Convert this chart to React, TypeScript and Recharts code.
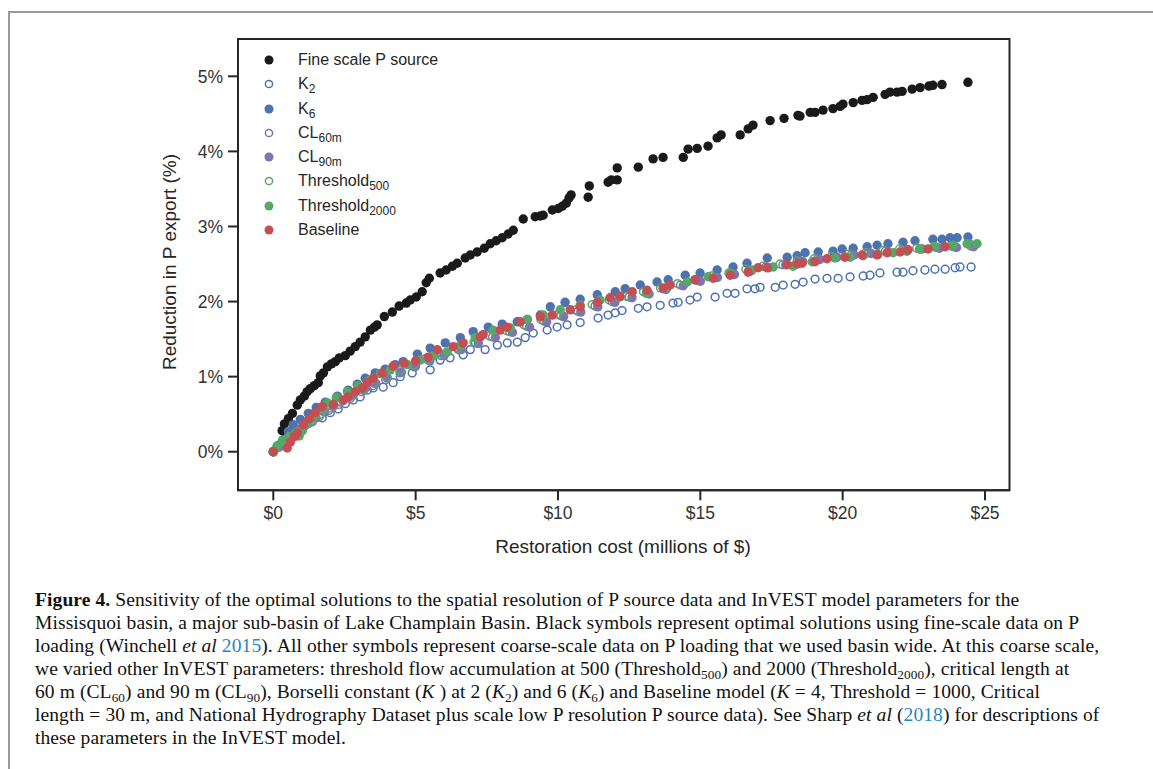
import { ReferenceArea, Scatter, ScatterChart, XAxis, YAxis } from "recharts";

// values: [cost in $M, reduction in %]
const fineScale = [
  [0, 0], [0.31, 0.28], [0.39, 0.37], [0.53, 0.44], [0.67, 0.51], [0.84, 0.62], [0.95, 0.69],
  [1.09, 0.74], [1.19, 0.8], [1.3, 0.84], [1.44, 0.88], [1.58, 0.92], [1.65, 1.01], [1.76, 1.05],
  [1.9, 1.13], [2.04, 1.17], [2.18, 1.2], [2.32, 1.25], [2.53, 1.28], [2.7, 1.34], [2.88, 1.4],
  [3.05, 1.46], [3.23, 1.53], [3.41, 1.62], [3.55, 1.66], [3.65, 1.69], [3.9, 1.8], [4.18, 1.86],
  [4.42, 1.94], [4.67, 1.98], [4.81, 2.02], [5.02, 2.06], [5.23, 2.13], [5.37, 2.25], [5.48, 2.31],
  [5.86, 2.38], [6.07, 2.42], [6.29, 2.47], [6.46, 2.51], [6.74, 2.58], [6.92, 2.62], [7.16, 2.66],
  [7.41, 2.71], [7.62, 2.77], [7.83, 2.81], [8.04, 2.85], [8.25, 2.9], [8.43, 2.95], [8.78, 3.1],
  [9.2, 3.13], [9.38, 3.14], [9.48, 3.15], [9.8, 3.22], [10.01, 3.24], [10.15, 3.27], [10.29, 3.31],
  [10.39, 3.38], [10.46, 3.42], [11.06, 3.39], [11.1, 3.54], [11.76, 3.59], [11.87, 3.62],
  [12.08, 3.62], [12.08, 3.78], [12.82, 3.79], [13.34, 3.9], [13.69, 3.92], [14.4, 3.92],
  [14.57, 4.03], [14.89, 4.04], [15.27, 4.07], [15.59, 4.18], [15.73, 4.22], [16.4, 4.22],
  [16.68, 4.3], [16.85, 4.35], [17.45, 4.41], [17.94, 4.44], [18.43, 4.48], [18.5, 4.47],
  [18.86, 4.52], [19.03, 4.52], [19.31, 4.55], [19.66, 4.57], [19.91, 4.6], [20.01, 4.63],
  [20.37, 4.65], [20.68, 4.68], [20.86, 4.69], [21.07, 4.72], [21.49, 4.76], [21.66, 4.79],
  [21.91, 4.79], [22.09, 4.8], [22.44, 4.83], [22.72, 4.85], [23.03, 4.87], [23.17, 4.88],
  [23.49, 4.89], [24.4, 4.92],
];

const k2 = [
  [0, 0], [0.14, 0.07], [0.35, 0.15], [0.6, 0.21], [0.84, 0.28], [1.12, 0.35], [1.37, 0.4],
  [1.72, 0.45], [2.0, 0.52], [2.28, 0.57], [2.53, 0.64], [2.81, 0.69], [3.05, 0.73], [3.3, 0.82],
  [3.51, 0.85], [3.86, 0.86], [4.21, 0.92], [4.46, 1.0], [4.88, 1.05], [5.51, 1.09], [5.86, 1.22],
  [6.21, 1.25], [6.67, 1.29], [6.92, 1.36], [7.44, 1.36], [7.87, 1.42], [8.22, 1.45], [8.57, 1.46],
  [8.85, 1.52], [9.13, 1.58], [9.62, 1.62], [9.97, 1.66], [10.32, 1.69], [10.78, 1.72],
  [11.41, 1.78], [11.76, 1.82], [12.01, 1.85], [12.25, 1.88], [12.82, 1.91], [13.13, 1.93],
  [13.59, 1.95], [14.04, 1.98], [14.22, 1.99], [14.64, 2.02], [14.89, 2.06], [15.52, 2.06],
  [15.94, 2.11], [16.22, 2.11], [16.64, 2.17], [16.92, 2.17], [17.1, 2.19], [17.63, 2.19],
  [17.91, 2.22], [18.33, 2.23], [18.61, 2.26], [19.03, 2.3], [19.45, 2.31], [19.84, 2.31],
  [20.26, 2.33], [20.72, 2.34], [20.96, 2.35], [21.31, 2.38], [21.91, 2.39], [22.12, 2.39],
  [22.47, 2.41], [22.89, 2.42], [23.24, 2.43], [23.6, 2.43], [23.95, 2.45], [24.12, 2.46],
  [24.51, 2.46],
];

const k6 = [
  [0, 0], [0.18, 0.08], [0.35, 0.16], [0.53, 0.27], [0.7, 0.36], [0.95, 0.43], [1.23, 0.51],
  [1.51, 0.59], [1.83, 0.66], [2.25, 0.74], [2.63, 0.82], [2.95, 0.9], [3.23, 0.98], [3.58, 1.05],
  [3.93, 1.1], [4.28, 1.16], [4.56, 1.2], [5.06, 1.3], [5.51, 1.38], [6.04, 1.45], [6.57, 1.52],
  [7.02, 1.6], [7.55, 1.66], [8.04, 1.7], [8.57, 1.73], [8.92, 1.76], [9.38, 1.82], [9.73, 1.93],
  [10.25, 1.99], [10.78, 2.03], [11.38, 2.09], [12.01, 2.13], [12.36, 2.17], [12.89, 2.22],
  [13.48, 2.26], [13.87, 2.29], [14.47, 2.35], [14.99, 2.38], [15.59, 2.42], [16.15, 2.46],
  [16.64, 2.51], [17.35, 2.58], [18.05, 2.59], [18.4, 2.61], [18.68, 2.65], [19.14, 2.66],
  [19.66, 2.67], [19.98, 2.7], [20.37, 2.71], [20.86, 2.73], [21.21, 2.75], [21.59, 2.77],
  [22.12, 2.79], [22.54, 2.81], [23.17, 2.83], [23.49, 2.83], [23.77, 2.85], [24.02, 2.85],
  [24.4, 2.86],
];

const cl60 = [
  [0, 0], [0.22, 0.07], [0.48, 0.16], [0.74, 0.24], [1.0, 0.31], [1.3, 0.39], [1.62, 0.47],
  [1.95, 0.55], [2.3, 0.63], [2.7, 0.71], [3.1, 0.8], [3.5, 0.88], [3.95, 0.96], [4.45, 1.05],
  [4.95, 1.13], [5.34, 1.24], [5.9, 1.28], [6.5, 1.36], [7.1, 1.45], [7.7, 1.53], [8.3, 1.6],
  [8.9, 1.67], [9.5, 1.74], [10.1, 1.81], [10.7, 1.87], [11.3, 1.94], [11.9, 2.0], [12.5, 2.06],
  [13.1, 2.11], [13.7, 2.17], [14.3, 2.22], [14.9, 2.28], [15.5, 2.32], [16.1, 2.37], [16.7, 2.41],
  [17.3, 2.46], [17.9, 2.49], [18.5, 2.53], [19.1, 2.56], [19.7, 2.59], [20.3, 2.62], [20.9, 2.65],
  [21.5, 2.67], [22.1, 2.69], [22.7, 2.7], [23.3, 2.72], [23.9, 2.73], [24.5, 2.74],
];

const cl90 = [
  [0, 0], [0.2, 0.06], [0.45, 0.14], [0.7, 0.22], [0.95, 0.3], [1.2, 0.37], [1.5, 0.45],
  [1.8, 0.53], [2.1, 0.6], [2.45, 0.68], [2.8, 0.75], [3.2, 0.83], [3.6, 0.91], [4.0, 0.98],
  [4.5, 1.06], [5.0, 1.14], [5.5, 1.21], [6.0, 1.28], [6.6, 1.36], [7.2, 1.44], [7.8, 1.52],
  [8.4, 1.59], [9.0, 1.66], [9.6, 1.73], [10.2, 1.8], [10.8, 1.86], [11.4, 1.93], [12.0, 1.99],
  [12.6, 2.05], [13.2, 2.1], [13.8, 2.16], [14.4, 2.21], [15.0, 2.27], [15.6, 2.32], [16.2, 2.36],
  [16.8, 2.41], [17.4, 2.45], [18.0, 2.49], [18.6, 2.53], [19.2, 2.56], [19.8, 2.59], [20.4, 2.62],
  [21.0, 2.64], [21.6, 2.66], [22.2, 2.68], [22.8, 2.7], [23.4, 2.71], [24.0, 2.72], [24.6, 2.73],
];

const thr500 = [
  [0, 0], [0.12, 0.06], [0.3, 0.13], [0.55, 0.2], [0.8, 0.26], [1.08, 0.33], [1.35, 0.41],
  [1.65, 0.5], [1.98, 0.58], [2.35, 0.66], [2.75, 0.74], [3.15, 0.83], [3.55, 0.91], [4.0, 0.99],
  [4.45, 1.08], [4.95, 1.15], [5.45, 1.22], [5.95, 1.3], [6.5, 1.38], [7.05, 1.46], [7.6, 1.54],
  [8.2, 1.61], [8.8, 1.69], [9.4, 1.76], [10.0, 1.83], [10.6, 1.89], [11.2, 1.96], [11.8, 2.02],
  [12.4, 2.07], [13.0, 2.13], [13.6, 2.18], [14.2, 2.24], [14.8, 2.29], [15.4, 2.34], [16.0, 2.38],
  [16.6, 2.43], [17.2, 2.47], [17.8, 2.5], [18.4, 2.54], [19.0, 2.57], [19.6, 2.6], [20.2, 2.63],
  [20.8, 2.65], [21.4, 2.68], [22.0, 2.7], [22.6, 2.71], [23.2, 2.73], [23.8, 2.74], [24.5, 2.76],
];

const thr2000 = [
  [0, 0], [0.14, 0.08], [0.32, 0.15], [0.6, 0.2], [0.91, 0.21], [1.02, 0.28], [1.23, 0.39],
  [1.47, 0.48], [1.72, 0.56], [1.9, 0.65], [2.21, 0.72], [2.6, 0.8], [2.98, 0.88], [3.41, 0.96],
  [3.76, 1.04], [4.11, 1.09], [4.71, 1.16], [5.16, 1.22], [5.62, 1.28], [6.11, 1.33], [6.57, 1.42],
  [7.09, 1.52], [7.72, 1.62], [8.32, 1.65], [8.92, 1.76], [9.48, 1.82], [10.08, 1.89],
  [10.78, 1.95], [11.48, 2.02], [12.18, 2.06], [13.13, 2.11], [13.83, 2.19], [14.54, 2.26],
  [15.27, 2.33], [16.05, 2.38], [16.82, 2.42], [17.56, 2.46], [18.26, 2.47], [18.93, 2.53],
  [19.73, 2.58], [20.26, 2.59], [20.72, 2.61], [21.24, 2.63], [21.77, 2.65], [22.26, 2.67],
  [22.72, 2.7], [23.24, 2.73], [23.88, 2.75], [24.37, 2.77], [24.72, 2.77],
];

const baseline = [
  [0, 0], [0.49, 0.05], [0.6, 0.13], [0.74, 0.2], [0.84, 0.25], [1.05, 0.36], [1.26, 0.44],
  [1.47, 0.52], [1.72, 0.6], [2.11, 0.63], [2.46, 0.69], [2.63, 0.73], [2.88, 0.8], [3.13, 0.85],
  [3.3, 0.92], [3.51, 0.98], [3.83, 1.05], [4.21, 1.14], [4.6, 1.18], [5.0, 1.21], [5.44, 1.26],
  [5.76, 1.36], [6.32, 1.4], [6.67, 1.45], [7.27, 1.53], [7.37, 1.56], [7.97, 1.62], [8.22, 1.66],
  [8.67, 1.73], [9.38, 1.8], [9.8, 1.82], [10.43, 1.89], [10.78, 1.93], [11.38, 1.99],
  [11.83, 2.05], [12.18, 2.07], [12.61, 2.13], [13.13, 2.15], [13.69, 2.18], [13.94, 2.22],
  [14.82, 2.29], [15.45, 2.31], [16.05, 2.35], [16.68, 2.39], [17.03, 2.45], [17.35, 2.45],
  [18.05, 2.49], [18.4, 2.5], [18.57, 2.51], [19.03, 2.53], [19.45, 2.57], [20.08, 2.59],
  [20.68, 2.62], [21.21, 2.62], [21.56, 2.65], [22.02, 2.66], [22.3, 2.69], [23.0, 2.7],
  [23.6, 2.73],
];

const xTicks = [0, 5, 10, 15, 20, 25];
const yTicks = [0, 1, 2, 3, 4, 5];

const BLACK = "#1a1a1a";
const BLUE = "#4c72b0";
const PURPLE = "#8172b2";
const GREEN = "#55a868";
const RED = "#c44e52";
const INK = "#262626";

const series = [
  { key: "fine", name: "Fine scale P source", sub: "", data: fineScale, color: BLACK, open: false },
  { key: "k2", name: "K", sub: "2", data: k2, color: BLUE, open: true },
  { key: "k6", name: "K", sub: "6", data: k6, color: BLUE, open: false },
  { key: "cl60", name: "CL", sub: "60m", data: cl60, color: PURPLE, open: true },
  { key: "cl90", name: "CL", sub: "90m", data: cl90, color: PURPLE, open: false },
  { key: "t500", name: "Threshold", sub: "500", data: thr500, color: GREEN, open: true },
  { key: "t2000", name: "Threshold", sub: "2000", data: thr2000, color: GREEN, open: false },
  { key: "base", name: "Baseline", sub: "", data: baseline, color: RED, open: false },
];

const sans = "'Liberation Sans', Arial, Helvetica, sans-serif";
const serif = "'Liberation Serif', 'Times New Roman', serif";
const LINK = "#1f87c4";

function dot(color: string, open: boolean) {
  return (p: any) =>
    open ? (
      <circle cx={p.cx} cy={p.cy} r={3.9} fill="none" stroke={color} strokeWidth={1.5} />
    ) : (
      <circle cx={p.cx} cy={p.cy} r={4.7} fill={color} />
    );
}

function Sub({ children, size = "0.68em" }: { children: React.ReactNode; size?: string }) {
  return <span style={{ fontSize: size, verticalAlign: "-0.3em", lineHeight: 0 }}>{children}</span>;
}

const line = { height: 23, lineHeight: "23px" };

export default function App() {
  return (
    <div style={{ position: "absolute", left: 0, top: 0, width: 1153, height: 769, background: "#fff", overflow: "hidden" }}>
      <div style={{ position: "absolute", left: 8, top: 11, width: 1200, height: 800, border: "2px solid #9a9a9a" }} />

      <div style={{ position: "absolute", left: 0, top: 0 }}>
        <ScatterChart width={1153} height={545} margin={{ top: 39, right: 143.5, bottom: 14.7, left: 158 }}>
          <XAxis
            dataKey="x"
            type="number"
            domain={[-1.24, 25.86]}
            ticks={xTicks}
            allowDataOverflow
            height={40}
            tickFormatter={(v) => `$${v}`}
            axisLine={{ stroke: INK, strokeWidth: 2 }}
            tickLine={{ stroke: INK, strokeWidth: 2 }}
            tickSize={10}
            tickMargin={6}
            tick={{ fill: "#333", fontSize: 17.5, fontFamily: sans }}
          />
          <YAxis
            dataKey="y"
            type="number"
            domain={[-0.514, 5.497]}
            ticks={yTicks}
            allowDataOverflow
            width={80}
            tickFormatter={(v) => `${v}%`}
            axisLine={{ stroke: INK, strokeWidth: 2 }}
            tickLine={{ stroke: INK, strokeWidth: 2 }}
            tickSize={10}
            tickMargin={5}
            tick={{ fill: "#333", fontSize: 17.5, fontFamily: sans }}
          />
          {series.map((s) => (
            <Scatter
              key={s.key}
              name={s.name + s.sub}
              data={s.data.map(([x, y]) => ({ x, y }))}
              shape={dot(s.color, s.open)}
              isAnimationActive={false}
            />
          ))}
          <ReferenceArea
            x1={-1.24}
            x2={25.86}
            y1={-0.514}
            y2={5.497}
            fill="none"
            stroke={INK}
            strokeWidth={2}
            ifOverflow="visible"
          />
        </ScatterChart>
      </div>

      {/* legend, upper left inside the axes */}
      <div style={{ position: "absolute", left: 262, top: 48, fontFamily: sans, fontSize: 16, color: INK }}>
        {series.map((s) => (
          <div key={s.key} style={{ height: 24.25, display: "flex", alignItems: "center", whiteSpace: "nowrap" }}>
            <svg width={14} height={14} style={{ marginRight: 22 }}>
              {s.open ? (
                <circle cx={7} cy={7} r={3.6} fill="none" stroke={s.color} strokeWidth={1.5} />
              ) : (
                <circle cx={7} cy={7} r={4.5} fill={s.color} />
              )}
            </svg>
            <span>
              {s.name}
              {s.sub && <Sub size="0.75em">{s.sub}</Sub>}
            </span>
          </div>
        ))}
      </div>

      <div style={{ position: "absolute", left: 423, top: 536, width: 400, textAlign: "center", fontFamily: sans, fontSize: 19, color: INK }}>
        Restoration cost (millions of $)
      </div>
      <div style={{ position: "absolute", left: 170, top: 263, width: 0, height: 0, fontFamily: sans, fontSize: 19, color: INK }}>
        <div style={{ position: "absolute", left: -200, top: -12, width: 400, textAlign: "center", transform: "rotate(-90deg)", whiteSpace: "nowrap" }}>
          Reduction in P export (%)
        </div>
      </div>

      <div style={{ position: "absolute", left: 35, top: 588, fontFamily: serif, fontSize: 19.5, letterSpacing: 0.1, color: "#111", whiteSpace: "nowrap" }}>
        <div style={line}>
          <b>Figure 4.</b> Sensitivity of the optimal solutions to the spatial resolution of P source data and InVEST model parameters for the
        </div>
        <div style={line}>Missisquoi basin, a major sub-basin of Lake Champlain Basin. Black symbols represent optimal solutions using fine-scale data on P</div>
        <div style={line}>
          loading (Winchell <i>et al</i> <span style={{ color: LINK }}>2015</span>). All other symbols represent coarse-scale data on P loading that we used basin wide. At this coarse scale,
        </div>
        <div style={line}>
          we varied other InVEST parameters: threshold flow accumulation at 500 (Threshold<Sub>500</Sub>) and 2000 (Threshold<Sub>2000</Sub>), critical length at
        </div>
        <div style={line}>
          60 m (CL<Sub>60</Sub>) and 90 m (CL<Sub>90</Sub>), Borselli constant (<i>K</i> ) at 2 (<i>K</i><Sub>2</Sub>) and 6 (<i>K</i><Sub>6</Sub>) and Baseline model (<i>K</i> = 4, Threshold = 1000, Critical
        </div>
        <div style={line}>
          length = 30 m, and National Hydrography Dataset plus scale low P resolution P source data). See Sharp <i>et al</i> (<span style={{ color: LINK }}>2018</span>) for descriptions of
        </div>
        <div style={line}>these parameters in the InVEST model.</div>
      </div>
    </div>
  );
}
